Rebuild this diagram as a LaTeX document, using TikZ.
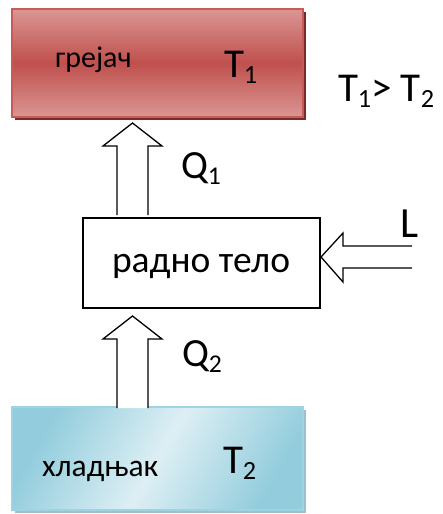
\documentclass[tikz,border=0pt]{standalone}
\usepackage{fontspec}
\usepackage{graphicx}
\setmainfont{Carlito}
\definecolor{hotmid}{HTML}{C0504D}
\definecolor{hotlight}{HTML}{DA9694}
\definecolor{hotedge}{HTML}{C65B58}
\definecolor{hotshadow}{HTML}{7A2A28}
\definecolor{colddark}{HTML}{93CDDD}
\definecolor{coldlight}{HTML}{DDEFF4}
\definecolor{coldedge}{HTML}{9ED3E0}
\newcommand\lowsub[1]{\raisebox{-0.15em}{\scalebox{0.64}{#1}}}
\tikzset{
  lbl/.style={anchor=base west, inner sep=0pt, outer sep=0pt},
  blockarrow/.style={draw=black, fill=white, line width=1.3pt, line join=miter}
}
\begin{document}
\begin{tikzpicture}[x=1pt,y=-1pt]
\useasboundingbox (0,0) rectangle (442,514);
% heater
\fill[hotshadow] (15,12) rectangle (306,120);
\shade[top color=hotlight, bottom color=hotlight, middle color=hotmid] (12,9) rectangle (303,117);
\draw[hotedge, line width=1.2pt] (12,9) rectangle (303,117);
\node[lbl] (grejac) at (55,67) {\fontsize{30}{32}\selectfont грејач};
\node[lbl] (t1) at (224,77) {\fontsize{41}{44}\selectfont T\lowsub{1}};
\node[lbl] (cmp) at (338,101) {\fontsize{41}{44}\selectfont T\lowsub{1}> T\lowsub{2}};
% cooler
\fill[coldedge!80!gray] (15,410) rectangle (306,513);
\shade[left color=colddark, right color=colddark, middle color=coldlight, shading angle=60] (12,407) rectangle (303,510);
\draw[coldedge, line width=1.2pt] (12,407) rectangle (303,510);
\node[lbl] (hladnjak) at (42,476) {\fontsize{31.5}{34}\selectfont хладњак};
\node[lbl] (t2) at (223,473) {\fontsize{41}{44}\selectfont T\lowsub{2}};
% working body
\node[draw=black, line width=1.5pt, minimum width=237pt, minimum height=90pt, inner sep=0pt] (body) at (201.5,263) {};
\node[lbl] (bodytext) at (112,272) {\fontsize{37.5}{40}\selectfont радно тело};
% Q1 arrow
\draw[blockarrow] (117,215) -- (117,146) -- (103,146) -- (132.5,123) -- (162,146) -- (148,146) -- (148,215);
\node[lbl] (q1) at (181,178) {\fontsize{40}{42}\selectfont Q\lowsub{1}};
% Q2 arrow
\draw[blockarrow] (117,408) -- (117,339) -- (103,339) -- (132.5,316) -- (162,339) -- (148,339) -- (148,408);
\node[lbl] (q2) at (182,366) {\fontsize{40}{42}\selectfont Q\lowsub{2}};
% L arrow
\draw[blockarrow] (412,246) -- (343,246) -- (343,233) -- (321,257) -- (343,282) -- (343,268) -- (412,268);
\node[lbl] (l) at (400,237) {\fontsize{43}{46}\selectfont L};
\end{tikzpicture}
\end{document}
